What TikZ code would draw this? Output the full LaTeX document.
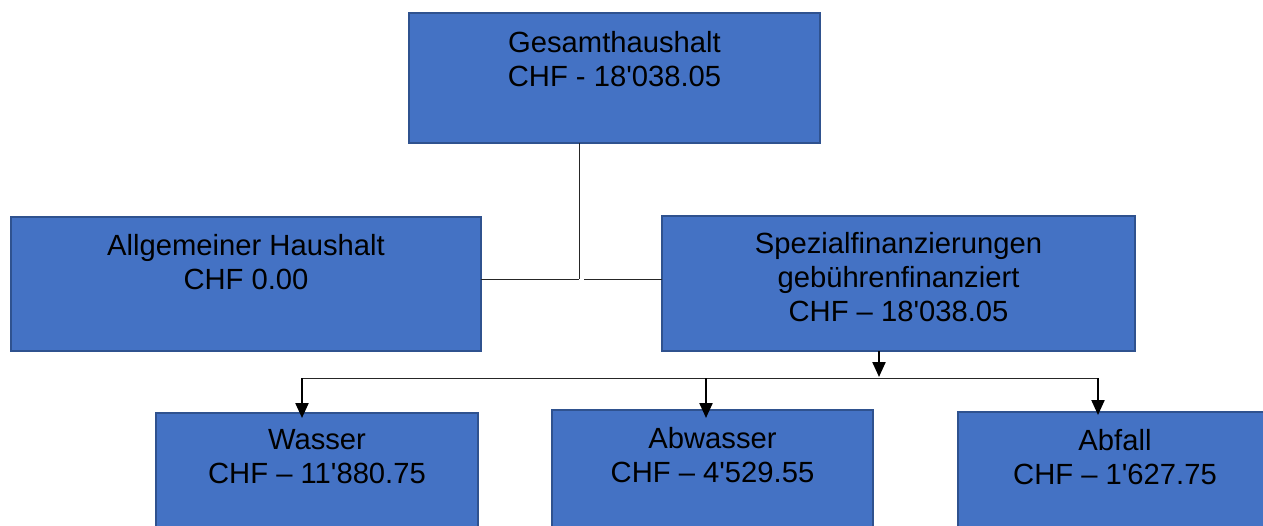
\documentclass[tikz,border=0pt]{standalone}
\usepackage{fontspec}
\setmainfont{Liberation Sans}
\usetikzlibrary{arrows.meta}
\definecolor{boxfill}{HTML}{4472C4}
\definecolor{boxline}{HTML}{2F528F}
\begin{document}
\begin{tikzpicture}[x=1pt,y=-1pt,
  box/.style={rectangle, fill=boxfill, draw=boxline, line width=1.5pt, anchor=north west, inner sep=0pt, outer sep=0pt},
  lbl/.style={anchor=north, align=center, inner sep=0pt, font=\fontsize{29.2}{34}\selectfont, text=black},
  conn/.style={line width=1pt, draw=black!85},
  arr/.style={line width=2.2pt, draw=black, -{Triangle[length=15pt,width=13pt]}}]
\useasboundingbox (0,0) rectangle (1263,525);
\clip (0,0) rectangle (1263,525);
% boxes
\node[box, minimum width=411pt, minimum height=130pt] (top) at (409,13) {};
\node[box, minimum width=470pt, minimum height=134pt] (left) at (11,217) {};
\node[box, minimum width=473pt, minimum height=135pt] (spez) at (662,216) {};
\node[box, minimum width=322pt, minimum height=130pt] (wasser) at (156,413) {};
\node[box, minimum width=321pt, minimum height=130pt] (abw) at (552,410) {};
\node[box, minimum width=314pt, minimum height=130pt] (abf) at (958,412) {};
% texts
\node[lbl] (toptxt) at (614.5,31) {Gesamthaushalt\\CHF - 18\textquotesingle 038.05};
\node[lbl] (lefttxt) at (246,234) {Allgemeiner Haushalt\\CHF 0.00};
\node[lbl] (speztxt) at (898.5,232) {Spezialfinanzierungen\\gebührenfinanziert\\CHF – 18\textquotesingle 038.05};
\node[lbl] (wassertxt) at (317,429) {Wasser\\CHF – 11\textquotesingle 880.75};
\node[lbl] (abwtxt) at (712.5,427) {Abwasser\\CHF – 4\textquotesingle 529.55};
\node[lbl] (abftxt) at (1115,429) {Abfall\\CHF – 1\textquotesingle 627.75};
% connectors top
\coordinate (j) at (579,279);
\coordinate (j2) at (584,279);
\draw[conn] (top.south -| j) -- (j);
\draw[conn] (left.east |- j) -- (j);
\draw[conn] (j2) -- (spez.west |- j2);
% connectors bottom
\coordinate (h) at (879,377);
\coordinate (bl) at (302,378);
\coordinate (bm) at (706,378);
\coordinate (br) at (1098,378);
\draw[arr] (spez.south -| h) -- (h);
\draw[conn] (bl) -- (br);
\draw[arr] (bl) -- ([yshift=-5pt]wasser.north -| bl);
\draw[arr] (bm) -- ([yshift=-8pt]abw.north -| bm);
\draw[arr] (br) -- ([yshift=-3pt]abf.north -| br);
\end{tikzpicture}
\end{document}
